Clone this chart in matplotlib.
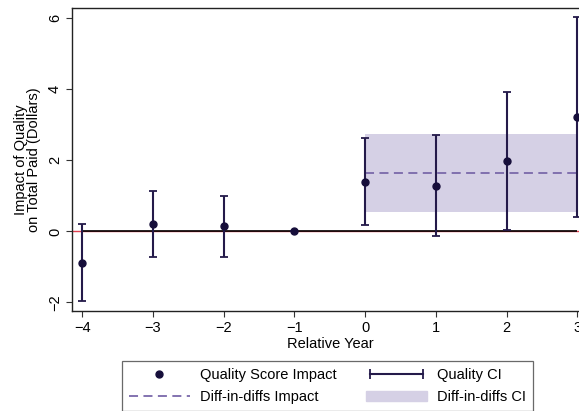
import numpy as np
import matplotlib
matplotlib.use("Agg")
import matplotlib.pyplot as plt
from matplotlib.lines import Line2D
from matplotlib.patches import Patch
from matplotlib.legend_handler import HandlerLine2D

# event-study estimates by year relative to treatment
rel_year = [-4, -3, -2, -1, 0, 1, 2, 3]
impact = [-0.89, 0.22, 0.14, 0.0, 1.40, 1.29, 1.99, 3.23]
ci_low = [-1.97, -0.73, -0.71, 0.0, 0.17, -0.12, 0.04, 0.42]
ci_high = [0.20, 1.15, 1.01, 0.0, 2.62, 2.71, 3.93, 6.03]

# pooled diff-in-diffs estimate over the post period
did_years = [0, 3]
did_est = 1.65
did_low = 0.55
did_high = 2.75

dark = "#241a4a"
dash_col = "#7a68aa"
band_col = "#d5d0e5"

plt.rcParams["font.family"] = ["Liberation Sans", "DejaVu Sans"]
plt.rcParams["font.size"] = 10.5

fig = plt.figure(figsize=(5.79, 4.11), dpi=100)
ax = fig.add_axes([0.1249, 0.2433, 0.8895, 0.7372])

ax.fill_between(did_years, did_low, did_high, color=band_col, lw=0, zorder=1)
ax.plot(did_years, [did_est, did_est], ls=(0, (5, 3)), color=dash_col, lw=1.3, zorder=2)

ax.axhline(0, color="#e04050", lw=1.0, zorder=2)
ax.hlines(0, rel_year[0], rel_year[-1], color="black", lw=1.2, zorder=3)

yerr = [np.array(impact) - np.array(ci_low), np.array(ci_high) - np.array(impact)]
ax.errorbar(rel_year, impact, yerr=yerr, fmt="none", ecolor=dark, elinewidth=1.5,
            capsize=3, capthick=1.3, zorder=4)
ax.plot(rel_year, impact, "o", color="#160e3a", ms=5, zorder=5)

ax.set_xlim(-4.14, 3.14)
ax.set_ylim(-2.24, 6.29)
ax.set_xticks(rel_year)
ax.set_yticks([-2, 0, 2, 4, 6])
for lbl in ax.get_yticklabels():
    lbl.set_rotation(90)
    lbl.set_va("center")
ax.tick_params(direction="out", length=4.5, width=0.8, color="#333333", pad=3)
for s in ax.spines.values():
    s.set_color("#222222")
    s.set_linewidth(1.0)

ax.set_xlabel("Relative Year", labelpad=1)
ax.set_ylabel("Impact of Quality\non Total Paid (Dollars)", labelpad=5, linespacing=0.95)

h_dot = Line2D([], [], marker="o", ls="none", color="#160e3a", ms=5)
h_dash = Line2D([], [], ls=(0, (5, 3)), color=dash_col, lw=1.3)
h_ci = Line2D([], [], color=dark, lw=1.5, marker="|", ms=7, mew=1.3)
h_band = Patch(facecolor=band_col, edgecolor=band_col)

leg = fig.legend([h_dot, h_dash, h_ci, h_band],
                 ["Quality Score Impact", "Diff-in-diffs Impact", "Quality CI", "Diff-in-diffs CI"],
                 ncol=2, loc="center", bbox_to_anchor=(0.5657, 0.0608),
                 handler_map={h_ci: HandlerLine2D(numpoints=2)},
                 frameon=True, fancybox=False, edgecolor="#444444",
                 handlelength=4.2, handletextpad=0.7, columnspacing=2.0,
                 borderpad=0.45, labelspacing=0.6, fontsize=10.5)
leg.get_frame().set_linewidth(0.9)

fig.savefig("out.png", dpi=100)
